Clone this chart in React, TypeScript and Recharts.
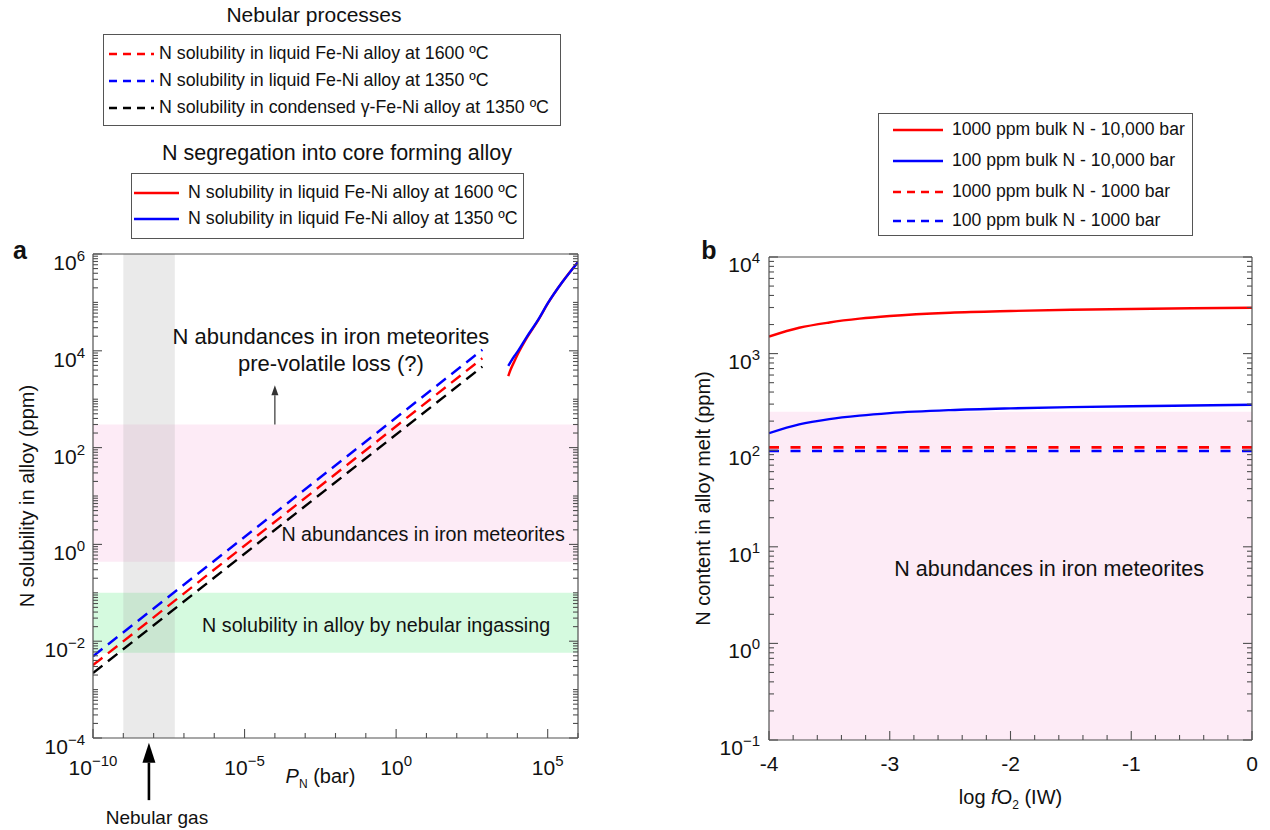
import React from 'react';
import {
  ComposedChart,
  Line,
  XAxis,
  YAxis,
  ReferenceArea,
  ReferenceLine,
  ReferenceDot,
} from 'recharts';

const FONT = '"Liberation Sans", Arial, Helvetica, sans-serif';
const AXIS_COLOR = '#505050';
const INK = '#111111';
const RED = '#ff0000';
const BLUE = '#0000ff';
const BLACK = '#000000';

// panel a, nebular ingassing (Sieverts' law, straight in log-log)
const nebularPressure = [1e-10, 700];
const nebularLiquid1600 = [0.0032, 7000];
const nebularLiquid1350 = [0.0049, 10500];
const nebularGamma1350 = [0.0022, 4700];

// panel a, N segregation into core forming alloy
const corePressure = [5e3, 6e3, 8e3, 1e4, 2e4, 5e4, 1e5, 3e5, 1e6];
const coreLiquid1600 = [3000, 4100, 6100, 8200, 18000, 44000, 94000, 260000, 680000];
const coreLiquid1350 = [4900, 5900, 7800, 9500, 19000, 45000, 95000, 260000, 680000];

// panel a, shaded ranges
const nebularGasRange = [1e-9, 5e-8];
const meteoriteRangeA = [0.44, 300];
const ingassingRange = [0.0058, 0.1];
const preLossArrowX = 1e-4;
const preLossArrowY = [300, 1950];
const nebularArrowX = 7e-9;
const nebularArrowY = [5.2e-6, 8e-5];

// panel b
const logFO2 = [-4, -3.75, -3.5, -3.25, -3, -2.5, -2, -1.5, -1, -0.5, 0];
const bulk1000At10kbar = [1500, 1850, 2100, 2300, 2450, 2650, 2760, 2840, 2900, 2950, 2980];
const bulk100At10kbar = [150, 185, 210, 228, 242, 260, 271, 279, 285, 290, 295];
const logFO2Flat = [-4, 0];
const bulk1000At1kbar = [107, 107];
const bulk100At1kbar = [98, 98];
const meteoriteRangeB = [0.1, 250];

// ticks
const decades = (lo: number, hi: number) =>
  Array.from({ length: hi - lo + 1 }, (_, i) => Math.pow(10, lo + i));
const logMinors = (lo: number, hi: number) => {
  const out: number[] = [];
  for (let e = lo; e < hi; e++) for (let m = 2; m <= 9; m++) out.push(m * Math.pow(10, e));
  return out;
};
const aXTicks = decades(-10, 6);
const aXLabelled = [-10, -5, 0, 5];
const aYTicks = [...decades(-4, 6), ...logMinors(-4, 6)];
const bXTicks = Array.from({ length: 21 }, (_, i) => Math.round((-4 + i * 0.2) * 10) / 10);
const bYTicks = [...decades(-1, 4), ...logMinors(-1, 4)];

const nebularData = nebularPressure.map((p, i) => ({
  p,
  s1600: nebularLiquid1600[i],
  s1350: nebularLiquid1350[i],
  gamma: nebularGamma1350[i],
}));
const coreData = corePressure.map((p, i) => ({ p, c1600: coreLiquid1600[i], c1350: coreLiquid1350[i] }));
const highPData = logFO2.map((f, i) => ({ f, n1000: bulk1000At10kbar[i], n100: bulk100At10kbar[i] }));
const lowPData = logFO2Flat.map((f, i) => ({ f, n1000: bulk1000At1kbar[i], n100: bulk100At1kbar[i] }));

const expOf = (v: number) => Math.round(Math.log10(v));
const isDecade = (v: number) => Math.abs(Math.log10(v) - expOf(v)) < 1e-6;
const isInt = (v: number) => Math.abs(v - Math.round(v)) < 1e-6;

const PowText = ({ x, y, e, anchor }: any) => (
  <text x={x} y={y} textAnchor={anchor} fontFamily={FONT} fontSize={21} fill={INK}>
    10
    <tspan dy={-9} fontSize={15}>
      {e < 0 ? `\u2212${-e}` : `${e}`}
    </tspan>
  </text>
);

type Side = 'bottom' | 'top' | 'left' | 'right';
const makeTick =
  (side: Side, isLong: (v: number) => boolean, label?: (v: number, x: number, y: number) => any) =>
  (props: any) => {
    const { x, y, payload } = props;
    const v = Number(payload.value);
    const len = isLong(v) ? 9 : 5;
    const d = { bottom: [0, -len], top: [0, len], left: [len, 0], right: [-len, 0] }[side];
    return (
      <g>
        <line x1={x} y1={y} x2={x + d[0]} y2={y + d[1]} stroke={AXIS_COLOR} strokeWidth={1.1} />
        {label ? label(v, x, y) : null}
      </g>
    );
  };

const aXLong = (v: number) => aXLabelled.includes(expOf(v));
const aYLong = (v: number) => isDecade(v) && expOf(v) % 2 === 0;
const aBottomTick = makeTick('bottom', aXLong, (v, x, y) =>
  aXLong(v) ? <PowText x={x} y={y + 37} e={expOf(v)} anchor="middle" /> : null
);
const aTopTick = makeTick('top', aXLong);
const aLeftTick = makeTick('left', aYLong, (v, x, y) =>
  aYLong(v) ? <PowText x={x - 8} y={y + 16} e={expOf(v)} anchor="end" /> : null
);
const aRightTick = makeTick('right', aYLong);

const bXLong = (v: number) => isInt(v);
const bYLong = (v: number) => isDecade(v);
const bBottomTick = makeTick('bottom', bXLong, (v, x, y) =>
  isInt(v) ? (
    <text x={x} y={y + 31} textAnchor="middle" fontFamily={FONT} fontSize={21} fill={INK}>
      {String(Math.round(v))}
    </text>
  ) : null
);
const bTopTick = makeTick('top', bXLong);
const bLeftTick = makeTick('left', bYLong, (v, x, y) =>
  isDecade(v) ? <PowText x={x - 9} y={y + 15} e={expOf(v)} anchor="end" /> : null
);
const bRightTick = makeTick('right', bYLong);

const axisLine = { stroke: AXIS_COLOR, strokeWidth: 1.2 };

const arrowShape = (headW: number, headL: number, width: number, color: string) => (props: any) => {
  const { x1, y1, x2, y2 } = props;
  const dx = x2 - x1;
  const dy = y2 - y1;
  const len = Math.sqrt(dx * dx + dy * dy) || 1;
  const ux = dx / len;
  const uy = dy / len;
  const bx = x2 - ux * headL;
  const by = y2 - uy * headL;
  const px = -uy * (headW / 2);
  const py = ux * (headW / 2);
  return (
    <g>
      <line x1={x1} y1={y1} x2={bx} y2={by} stroke={color} strokeWidth={width} />
      <polygon points={`${x2},${y2} ${bx + px},${by + py} ${bx - px},${by - py}`} fill={color} />
    </g>
  );
};

const textAt = (lines: string[], fontSize: number, lineGap: number) => (props: any) => {
  const vb = props.viewBox || {};
  const cx = vb.x ?? 0;
  const cy = vb.y ?? 0;
  const first = cy - ((lines.length - 1) * lineGap) / 2 + fontSize * 0.35;
  return (
    <text x={cx} y={first} textAnchor="middle" fontFamily={FONT} fontSize={fontSize} fill={INK}>
      {lines.map((l, i) => (
        <tspan key={i} x={cx} y={first + i * lineGap}>
          {l}
        </tspan>
      ))}
    </text>
  );
};

const aYLabel = (props: any) => {
  const vb = props.viewBox || { x: 0, y: 254, width: 93, height: 484 };
  const cx = 27;
  const cy = vb.y + vb.height / 2;
  return (
    <text x={cx} y={cy} transform={`rotate(-90, ${cx}, ${cy})`} textAnchor="middle" dy={7} fontFamily={FONT} fontSize={20} fill={INK}>
      N solubility in alloy (ppm)
    </text>
  );
};
const aXLabel = (props: any) => {
  const vb = props.viewBox || { x: 93, y: 738, width: 485, height: 0 };
  const cx = vb.x + vb.width / 2 - 15;
  return (
    <text x={cx} y={vb.y + 45} textAnchor="middle" fontFamily={FONT} fontSize={20} fill={INK}>
      <tspan fontStyle="italic">P</tspan>
      <tspan fontSize={12} dy={5}>N</tspan>
      <tspan dy={-5}> (bar)</tspan>
    </text>
  );
};
const bYLabel = (props: any) => {
  const vb = props.viewBox || { x: 0, y: 257, width: 129, height: 483 };
  const cx = 63;
  const cy = vb.y + vb.height / 2;
  return (
    <text x={cx} y={cy} transform={`rotate(-90, ${cx}, ${cy})`} textAnchor="middle" dy={7} fontFamily={FONT} fontSize={20} fill={INK}>
      N content in alloy melt (ppm)
    </text>
  );
};
const bXLabel = (props: any) => {
  const vb = props.viewBox || { x: 129, y: 740, width: 483, height: 0 };
  const cx = vb.x + vb.width / 2;
  return (
    <text x={cx} y={vb.y + 64} textAnchor="middle" fontFamily={FONT} fontSize={20} fill={INK}>
      log <tspan fontStyle="italic">f</tspan>O<tspan fontSize={12} dy={5}>2</tspan>
      <tspan dy={-5}> (IW)</tspan>
    </text>
  );
};

const PanelA = () => (
  <div style={{ position: 'absolute', left: 0, top: 0 }}>
    <ComposedChart width={640} height={830} margin={{ top: 253, right: 61, bottom: 91, left: 0 }}>
      <XAxis xAxisId="x" dataKey="p" type="number" scale="log" domain={[1e-10, 1e6]} allowDataOverflow
        ticks={aXTicks} interval={0} height={1} tickSize={0} tickMargin={0} tickLine={false}
        axisLine={axisLine} tick={aBottomTick} label={aXLabel} />
      <XAxis xAxisId="top" orientation="top" type="number" scale="log" domain={[1e-10, 1e6]} allowDataOverflow
        ticks={aXTicks} interval={0} height={1} tickSize={0} tickMargin={0} tickLine={false}
        axisLine={axisLine} tick={aTopTick} />
      <YAxis yAxisId="y" type="number" scale="log" domain={[1e-4, 1e6]} allowDataOverflow
        ticks={aYTicks} interval={0} width={93} tickSize={0} tickMargin={0} tickLine={false}
        axisLine={axisLine} tick={aLeftTick} label={aYLabel} />
      <YAxis yAxisId="right" orientation="right" type="number" scale="log" domain={[1e-4, 1e6]} allowDataOverflow
        ticks={aYTicks} interval={0} width={1} tickSize={0} tickMargin={0} tickLine={false}
        axisLine={axisLine} tick={aRightTick} />

      <ReferenceArea xAxisId="x" yAxisId="y" y1={meteoriteRangeA[0]} y2={meteoriteRangeA[1]} fill="#fdebf6" fillOpacity={1} stroke="none" />
      <ReferenceArea xAxisId="x" yAxisId="y" y1={ingassingRange[0]} y2={ingassingRange[1]} fill="#d5fadf" fillOpacity={1} stroke="none" />
      <ReferenceArea xAxisId="x" yAxisId="y" x1={nebularGasRange[0]} x2={nebularGasRange[1]} fill="#a8a8a8" fillOpacity={0.24} stroke="none" />

      <Line xAxisId="x" yAxisId="y" data={nebularData} dataKey="gamma" type="linear" stroke={BLACK} strokeWidth={2.4} strokeDasharray="12 7" dot={false} isAnimationActive={false} />
      <Line xAxisId="x" yAxisId="y" data={nebularData} dataKey="s1600" type="linear" stroke={RED} strokeWidth={2.4} strokeDasharray="12 7" dot={false} isAnimationActive={false} />
      <Line xAxisId="x" yAxisId="y" data={nebularData} dataKey="s1350" type="linear" stroke={BLUE} strokeWidth={2.4} strokeDasharray="12 7" dot={false} isAnimationActive={false} />
      <Line xAxisId="x" yAxisId="y" data={coreData} dataKey="c1600" type="monotone" stroke={RED} strokeWidth={2.4} dot={false} isAnimationActive={false} />
      <Line xAxisId="x" yAxisId="y" data={coreData} dataKey="c1350" type="monotone" stroke={BLUE} strokeWidth={2.4} dot={false} isAnimationActive={false} />

      <ReferenceLine xAxisId="x" yAxisId="y"
        segment={[{ x: preLossArrowX, y: preLossArrowY[0] }, { x: preLossArrowX, y: preLossArrowY[1] }]}
        stroke="#333" shape={arrowShape(7, 10, 1.2, '#333')} />
      <ReferenceLine xAxisId="x" yAxisId="y" ifOverflow="visible"
        segment={[{ x: nebularArrowX, y: nebularArrowY[0] }, { x: nebularArrowX, y: nebularArrowY[1] }]}
        stroke={BLACK} shape={arrowShape(13, 20, 2.6, BLACK)} />

      <ReferenceDot xAxisId="x" yAxisId="y" x={Math.pow(10, -2.15)} y={Math.pow(10, 4.02)} r={0} stroke="none"
        label={textAt(['N abundances in iron meteorites', 'pre-volatile loss (?)'], 22, 27)} />
      <ReferenceDot xAxisId="x" yAxisId="y" x={Math.pow(10, 0.89)} y={Math.pow(10, 0.21)} r={0} stroke="none"
        label={textAt(['N abundances in iron meteorites'], 19.7, 0)} />
      <ReferenceDot xAxisId="x" yAxisId="y" x={Math.pow(10, -0.66)} y={Math.pow(10, -1.67)} r={0} stroke="none"
        label={textAt(['N solubility in alloy by nebular ingassing'], 19.7, 0)} />
      <ReferenceDot xAxisId="x" yAxisId="y" ifOverflow="visible" x={Math.pow(10, -7.89)} y={Math.pow(10, -5.63)} r={0} stroke="none"
        label={textAt(['Nebular gas'], 19, 0)} />
    </ComposedChart>
  </div>
);

const PanelB = () => (
  <div style={{ position: 'absolute', left: 640, top: 0 }}>
    <ComposedChart width={630} height={830} margin={{ top: 256, right: 17, bottom: 89, left: 0 }}>
      <XAxis xAxisId="x" dataKey="f" type="number" domain={[-4, 0]} allowDataOverflow
        ticks={bXTicks} interval={0} height={1} tickSize={0} tickMargin={0} tickLine={false}
        axisLine={axisLine} tick={bBottomTick} label={bXLabel} />
      <XAxis xAxisId="top" orientation="top" type="number" domain={[-4, 0]} allowDataOverflow
        ticks={bXTicks} interval={0} height={1} tickSize={0} tickMargin={0} tickLine={false}
        axisLine={axisLine} tick={bTopTick} />
      <YAxis yAxisId="y" type="number" scale="log" domain={[0.1, 1e4]} allowDataOverflow
        ticks={bYTicks} interval={0} width={129} tickSize={0} tickMargin={0} tickLine={false}
        axisLine={axisLine} tick={bLeftTick} label={bYLabel} />
      <YAxis yAxisId="right" orientation="right" type="number" scale="log" domain={[0.1, 1e4]} allowDataOverflow
        ticks={bYTicks} interval={0} width={1} tickSize={0} tickMargin={0} tickLine={false}
        axisLine={axisLine} tick={bRightTick} />

      <ReferenceArea xAxisId="x" yAxisId="y" y1={meteoriteRangeB[0]} y2={meteoriteRangeB[1]} fill="#fdebf6" fillOpacity={1} stroke="none" />

      <Line xAxisId="x" yAxisId="y" data={highPData} dataKey="n1000" type="monotone" stroke={RED} strokeWidth={2.4} dot={false} isAnimationActive={false} />
      <Line xAxisId="x" yAxisId="y" data={highPData} dataKey="n100" type="monotone" stroke={BLUE} strokeWidth={2.4} dot={false} isAnimationActive={false} />
      <Line xAxisId="x" yAxisId="y" data={lowPData} dataKey="n1000" type="linear" stroke={RED} strokeWidth={2.6} strokeDasharray="10 11.5" dot={false} isAnimationActive={false} />
      <Line xAxisId="x" yAxisId="y" data={lowPData} dataKey="n100" type="linear" stroke={BLUE} strokeWidth={2.6} strokeDasharray="10 11.5" dot={false} isAnimationActive={false} />

      <ReferenceDot xAxisId="x" yAxisId="y" x={-1.68} y={6} r={0} stroke="none"
        label={textAt(['N abundances in iron meteorites'], 21.5, 0)} />
    </ComposedChart>
  </div>
);

const Sample = ({ color, dashed, width }: any) => (
  <svg width={width} height={6} style={{ display: 'block' }}>
    <line x1={0} y1={3} x2={width} y2={3} stroke={color} strokeWidth={2.4} strokeDasharray={dashed ? '8 6' : undefined} />
  </svg>
);

const LegendBox = ({ left, top, width, height, rows, sampleLeft, sampleWidth, textLeft, fontSize }: any) => (
  <div style={{ position: 'absolute', left, top, width, height, border: '1px solid #555', boxSizing: 'border-box', background: '#fff' }}>
    {rows.map((r: any, i: number) => (
      <div key={i} style={{ position: 'absolute', left: 0, top: r.y - top, width: '100%' }}>
        <div style={{ position: 'absolute', left: sampleLeft - left, top: -3 }}>
          <Sample color={r.color} dashed={r.dashed} width={sampleWidth} />
        </div>
        <div style={{ position: 'absolute', left: textLeft - left, top: -fontSize * 0.6, fontSize, lineHeight: `${fontSize * 1.2}px`, whiteSpace: 'nowrap', color: INK }}>
          {r.label}
        </div>
      </div>
    ))}
  </div>
);

const Title = ({ cx, cy, text, size, bold }: any) => (
  <div style={{ position: 'absolute', left: cx - 300, top: cy - size * 0.6, width: 600, textAlign: 'center', fontSize: size, lineHeight: `${size * 1.2}px`, fontWeight: bold ? 700 : 400, color: INK, whiteSpace: 'nowrap' }}>
    {text}
  </div>
);

const nebularLegend = [
  { label: 'N solubility in liquid Fe-Ni alloy at 1600 \u00baC', color: RED, dashed: true, y: 53 },
  { label: 'N solubility in liquid Fe-Ni alloy at 1350 \u00baC', color: BLUE, dashed: true, y: 80 },
  { label: 'N solubility in condensed \u03b3-Fe-Ni alloy at 1350 \u00baC', color: BLACK, dashed: true, y: 107 },
];
const coreLegend = [
  { label: 'N solubility in liquid Fe-Ni alloy at 1600 \u00baC', color: RED, dashed: false, y: 192 },
  { label: 'N solubility in liquid Fe-Ni alloy at 1350 \u00baC', color: BLUE, dashed: false, y: 218 },
];
const bLegend = [
  { label: '1000 ppm bulk N - 10,000 bar', color: RED, dashed: false, y: 129 },
  { label: '100 ppm bulk N - 10,000 bar', color: BLUE, dashed: false, y: 160 },
  { label: '1000 ppm bulk N - 1000 bar', color: RED, dashed: true, y: 191 },
  { label: '100 ppm bulk N - 1000 bar', color: BLUE, dashed: true, y: 220 },
];

export default function App() {
  return (
    <div style={{ position: 'absolute', left: 0, top: 0, width: 1270, height: 830, background: '#fff', fontFamily: FONT, overflow: 'hidden' }}>
      <PanelA />
      <PanelB />
      <Title cx={314} cy={15} text="Nebular processes" size={21} />
      <LegendBox left={103} top={34} width={458} height={92} rows={nebularLegend} sampleLeft={108} sampleWidth={45} textLeft={158} fontSize={17.8} />
      <Title cx={337} cy={154} text="N segregation into core forming alloy" size={21.5} />
      <LegendBox left={131} top={173} width={393} height={66} rows={coreLegend} sampleLeft={133} sampleWidth={45} textLeft={187} fontSize={17.8} />
      <LegendBox left={878} top={113} width={315} height={123} rows={bLegend} sampleLeft={892} sampleWidth={50} textLeft={951} fontSize={17.6} />
      <Title cx={20} cy={250} text="a" size={25} bold />
      <Title cx={709} cy={250} text="b" size={25} bold />
    </div>
  );
}
